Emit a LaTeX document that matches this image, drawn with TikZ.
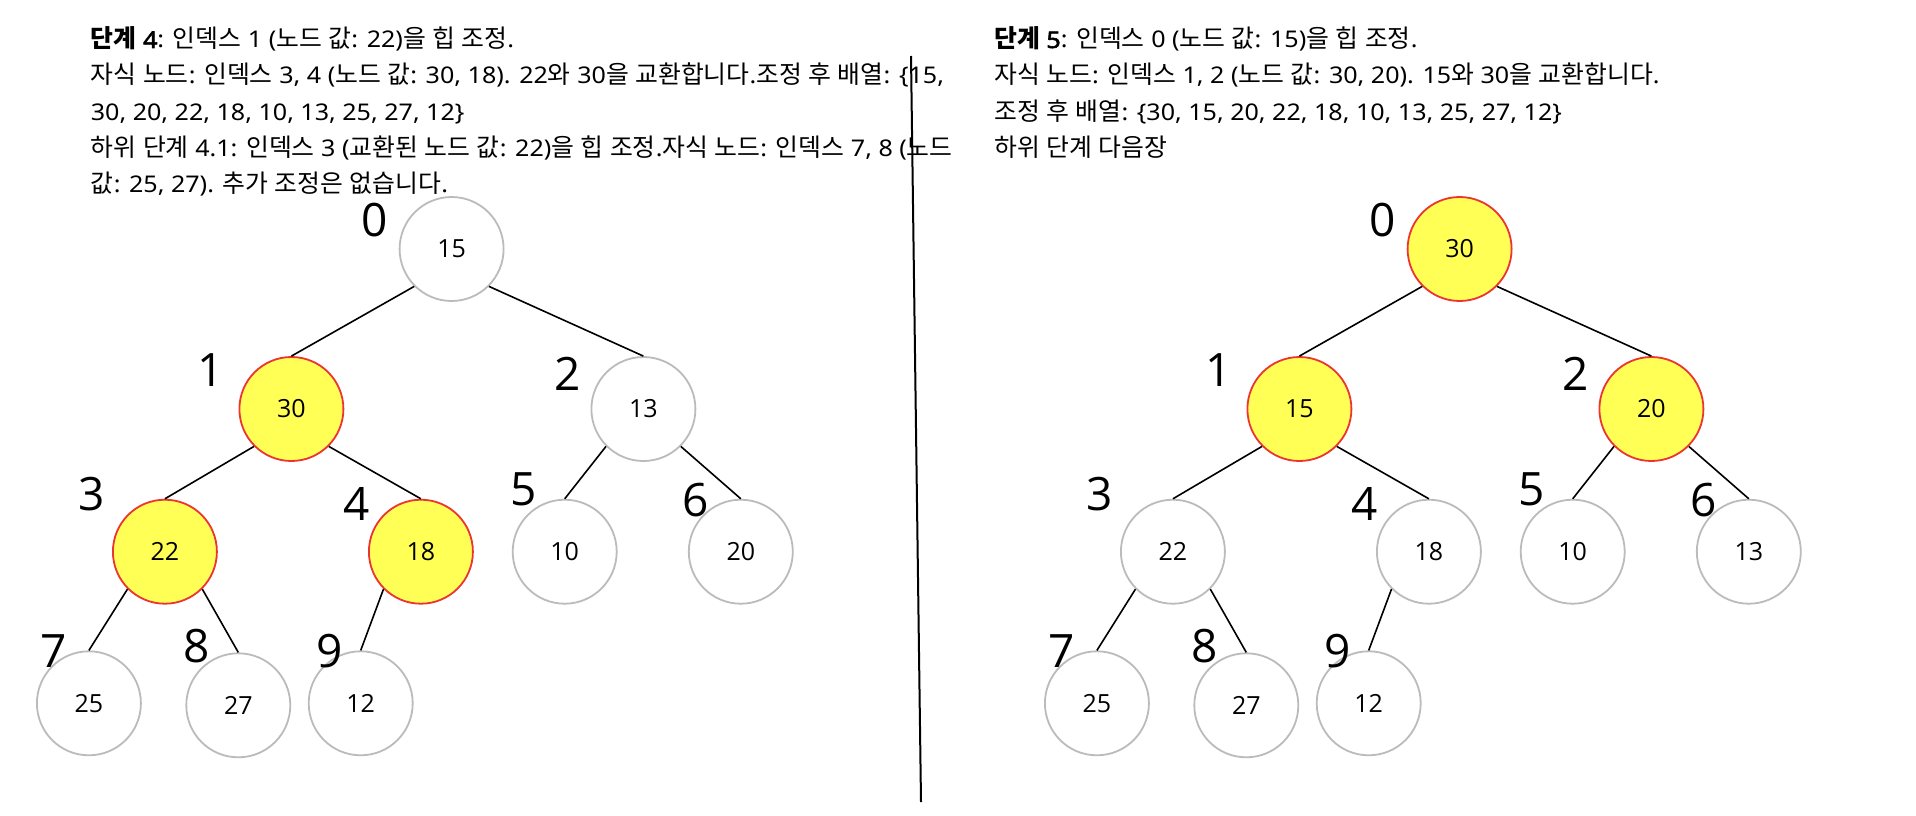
\documentclass[tikz,border=0pt]{standalone}
\usepackage{fontspec}
\setmainfont{Noto Sans}[FakeStretch=1.09, BoldFont={Noto Sans}, BoldFeatures={FakeBold=2.5}]
\newfontfamily\krfont[Scale=1.08]{Noto Sans CJK KR}
\newfontfamily\numfont{Open Sans}
\XeTeXinterchartokenstate=1
\newXeTeXintercharclass\krclass
\count255="AC00
\loop
  \XeTeXcharclass\count255=\krclass
  \ifnum\count255<"D7A3 \advance\count255 by 1 \repeat
\XeTeXinterchartoks 0 \krclass = {\begingroup\krfont}
\XeTeXinterchartoks 4095 \krclass = {\begingroup\krfont}
\XeTeXinterchartoks \krclass 0 = {\endgroup}
\XeTeXinterchartoks \krclass 4095 = {\endgroup}
\definecolor{hlfill}{HTML}{FFFF55}
\definecolor{hlline}{HTML}{EE3333}
\definecolor{plainline}{HTML}{BBBBBB}
\tikzset{
  heapnode/.style={circle, draw=plainline, line width=1.8pt, fill=white, minimum size=104pt, inner sep=0pt, font=\numfont\fontsize{25}{30}\selectfont},
  hlnode/.style={heapnode, draw=hlline, fill=hlfill},
  idx/.style={font=\numfont\fontsize{46}{50}\selectfont, inner sep=0pt},
  hdr/.style={anchor=base west, inner sep=0pt, font=\fontsize{23}{28}\selectfont},
  edge/.style={line width=1.6pt, black},
  divider/.style={line width=2pt, black}
}
\begin{document}
\begin{tikzpicture}[x=1pt, y=-1pt]
\fill[white] (0,0) rectangle (1916,816);
\useasboundingbox (0,0) rectangle (1916,816);

% left header
\node[hdr] (l1) at (90.7,48) {{\bfseries 단계 4}: 인덱스 1 (노드 값: 22)을 힙 조정.\relax};
\node[hdr] (l2) at (90.7,84) {자식 노드: 인덱스 3, 4 (노드 값: 30, 18). 22와 30을 교환합니다.조정 후 배열: \{15,\relax};
\node[hdr] (l3) at (90.7,120) {30, 20, 22, 18, 10, 13, 25, 27, 12\}\relax};
\node[hdr] (l4) at (90.7,156) {하위 단계 4.1: 인덱스 3 (교환된 노드 값: 22)을 힙 조정.자식 노드: 인덱스 7, 8 (노드\relax};
\node[hdr] (l5) at (90.7,192) {값: 25, 27). 추가 조정은 없습니다.\relax};

% right header
\node[hdr] (r1) at (994,48) {{\bfseries 단계 5}: 인덱스 0 (노드 값: 15)을 힙 조정.\relax};
\node[hdr] (r2) at (994,84) {자식 노드: 인덱스 1, 2 (노드 값: 30, 20). 15와 30을 교환합니다.\relax};
\node[hdr] (r3) at (994,120) {조정 후 배열: \{30, 15, 20, 22, 18, 10, 13, 25, 27, 12\}\relax};
\node[hdr] (r4) at (994,156) {하위 단계 다음장\relax};

% divider
\coordinate (dtop) at (911,56);
\coordinate (dbot) at (921,802);
\draw[divider] (dtop) -- (dbot);

% left tree
\node[heapnode] (a0) at (451.6,249) {15};
\node[hlnode]   (a1) at (291.4,409) {30};
\node[heapnode] (a2) at (643.4,409) {13};
\node[hlnode]   (a3) at (164.9,551.7) {22};
\node[hlnode]   (a4) at (420.9,551.7) {18};
\node[heapnode] (a5) at (564.7,551.7) {10};
\node[heapnode] (a6) at (740.8,551.7) {20};
\node[heapnode] (a7) at (88.9,703.3) {25};
\node[heapnode] (a8) at (238.3,705.3) {27};
\node[heapnode] (a9) at (360.7,703.3) {12};

\draw[edge] (a0.south west) -- (a1.north);
\draw[edge] (a0.south east) -- (a2.north);
\draw[edge] (a1.south west) -- (a3.north);
\draw[edge] (a1.south east) -- (a4.north);
\draw[edge] (a2.south west) -- (a5.north);
\draw[edge] (a2.south east) -- (a6.north);
\draw[edge] (a3.south west) -- (a7.north);
\draw[edge] (a3.south east) -- (a8.north);
\draw[edge] (a4.south west) -- (a9.north);

\node[idx] (ai0) at (375,220) {0};
\node[idx] (ai1) at (211,370) {1};
\node[idx] (ai2) at (568,373.5) {2};
\node[idx] (ai3) at (92,494) {3};
\node[idx] (ai4) at (356.5,504) {4};
\node[idx] (ai5) at (523.5,489) {5};
\node[idx] (ai6) at (696,500) {6};
\node[idx] (ai7) at (54,651) {7};
\node[idx] (ai8) at (196.5,646.5) {8};
\node[idx] (ai9) at (330,651.5) {9};

% right tree
\begin{scope}[xshift=1008pt]
\node[hlnode]   (b0) at (451.6,249) {30};
\node[hlnode]   (b1) at (291.4,409) {15};
\node[hlnode]   (b2) at (643.4,409) {20};
\node[heapnode] (b3) at (164.9,551.7) {22};
\node[heapnode] (b4) at (420.9,551.7) {18};
\node[heapnode] (b5) at (564.7,551.7) {10};
\node[heapnode] (b6) at (740.8,551.7) {13};
\node[heapnode] (b7) at (88.9,703.3) {25};
\node[heapnode] (b8) at (238.3,705.3) {27};
\node[heapnode] (b9) at (360.7,703.3) {12};

\draw[edge] (b0.south west) -- (b1.north);
\draw[edge] (b0.south east) -- (b2.north);
\draw[edge] (b1.south west) -- (b3.north);
\draw[edge] (b1.south east) -- (b4.north);
\draw[edge] (b2.south west) -- (b5.north);
\draw[edge] (b2.south east) -- (b6.north);
\draw[edge] (b3.south west) -- (b7.north);
\draw[edge] (b3.south east) -- (b8.north);
\draw[edge] (b4.south west) -- (b9.north);

\node[idx] (bi0) at (375,220) {0};
\node[idx] (bi1) at (211,370) {1};
\node[idx] (bi2) at (568,373.5) {2};
\node[idx] (bi3) at (92,494) {3};
\node[idx] (bi4) at (356.5,504) {4};
\node[idx] (bi5) at (523.5,489) {5};
\node[idx] (bi6) at (696,500) {6};
\node[idx] (bi7) at (54,651) {7};
\node[idx] (bi8) at (196.5,646.5) {8};
\node[idx] (bi9) at (330,651.5) {9};
\end{scope}
\end{tikzpicture}
\end{document}
